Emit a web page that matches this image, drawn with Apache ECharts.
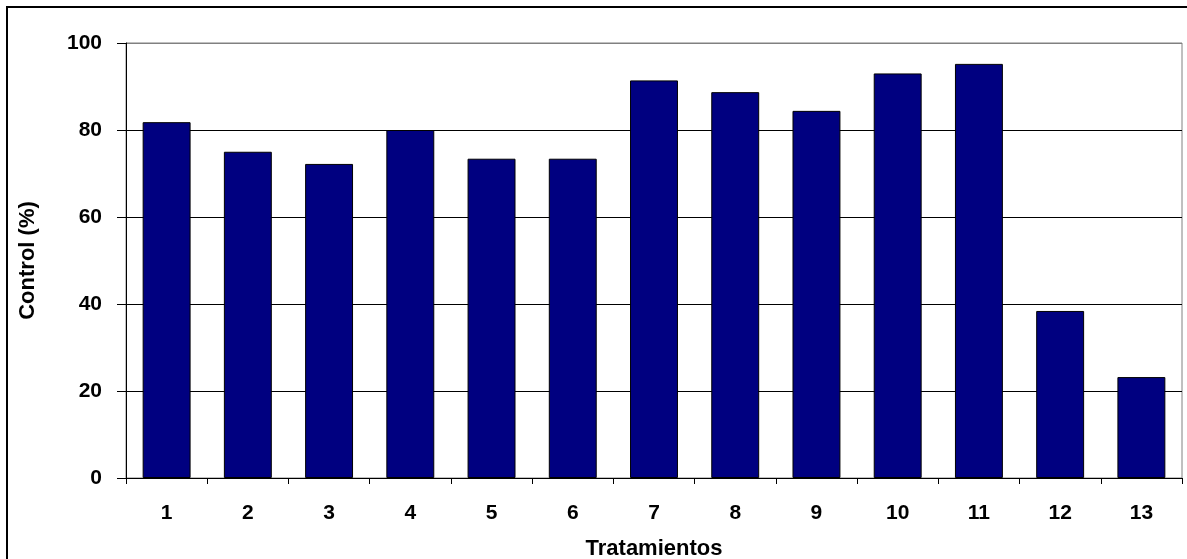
<!DOCTYPE html>
<html>
<head>
<meta charset="utf-8">
<script src="https://cdn.jsdelivr.net/npm/echarts@6/dist/echarts.min.js"></script>
<style>
html,body{margin:0;padding:0;background:#fff;}
#c{width:1187px;height:559px;}
</style>
</head>
<body>
<div id="c"></div>
<script>
const categories = ['1','2','3','4','5','6','7','8','9','10','11','12','13'];
const controlValues = [81.8, 75.0, 72.2, 80.0, 73.4, 73.4, 91.4, 88.7, 84.4, 93.0, 95.2, 38.4, 23.2];
const yTicks = [0, 20, 40, 60, 80, 100];

const chart = echarts.init(document.getElementById('c'), null, {renderer: 'canvas'});
const font = 'Liberation Sans, Arial, sans-serif';
chart.setOption({
  animation: false,
  backgroundColor: '#fff',
  graphic: [{
    type: 'rect',
    shape: {x: 7, y: 7, width: 1200, height: 600},
    style: {fill: 'none', stroke: '#000', lineWidth: 2},
    z: 100
  }],
  grid: {
    left: 126, right: 5, top: 43, bottom: 81,
    outerBoundsMode: 'none',
    containLabel: false,
    show: true, borderColor: '#808080', borderWidth: 1, backgroundColor: '#fff'
  },
  xAxis: {
    type: 'category',
    data: categories,
    name: 'Tratamientos',
    nameLocation: 'middle',
    nameGap: 60,
    nameTextStyle: {fontFamily: font, fontWeight: 'bold', fontSize: 22, color: '#000'},
    axisLine: {show: true, lineStyle: {color: '#000', width: 1}},
    axisTick: {show: true, length: 6, lineStyle: {color: '#000'}},
    axisLabel: {fontFamily: font, fontWeight: 'bold', fontSize: 21, color: '#000', margin: 25},
    splitLine: {show: false}
  },
  yAxis: {
    type: 'value',
    min: yTicks[0], max: yTicks[yTicks.length - 1], interval: 20,
    name: 'Control (%)',
    nameLocation: 'middle',
    nameGap: 87,
    nameTextStyle: {fontFamily: font, fontWeight: 'bold', fontSize: 22, color: '#000'},
    axisLine: {show: true, lineStyle: {color: '#000', width: 1}},
    axisTick: {show: true, inside: false, length: 9, lineStyle: {color: '#000'}},
    axisLabel: {fontFamily: font, fontWeight: 'bold', fontSize: 21, color: '#000', margin: 24},
    splitLine: {show: true, lineStyle: {color: ['#000','#000','#000','#000','#000','#808080'], width: 1}}
  },
  series: [{
    type: 'bar',
    data: controlValues,
    barWidth: '59%',
    itemStyle: {color: '#000080', borderColor: '#000', borderWidth: 1}
  }]
});
</script>
</body>
</html>
